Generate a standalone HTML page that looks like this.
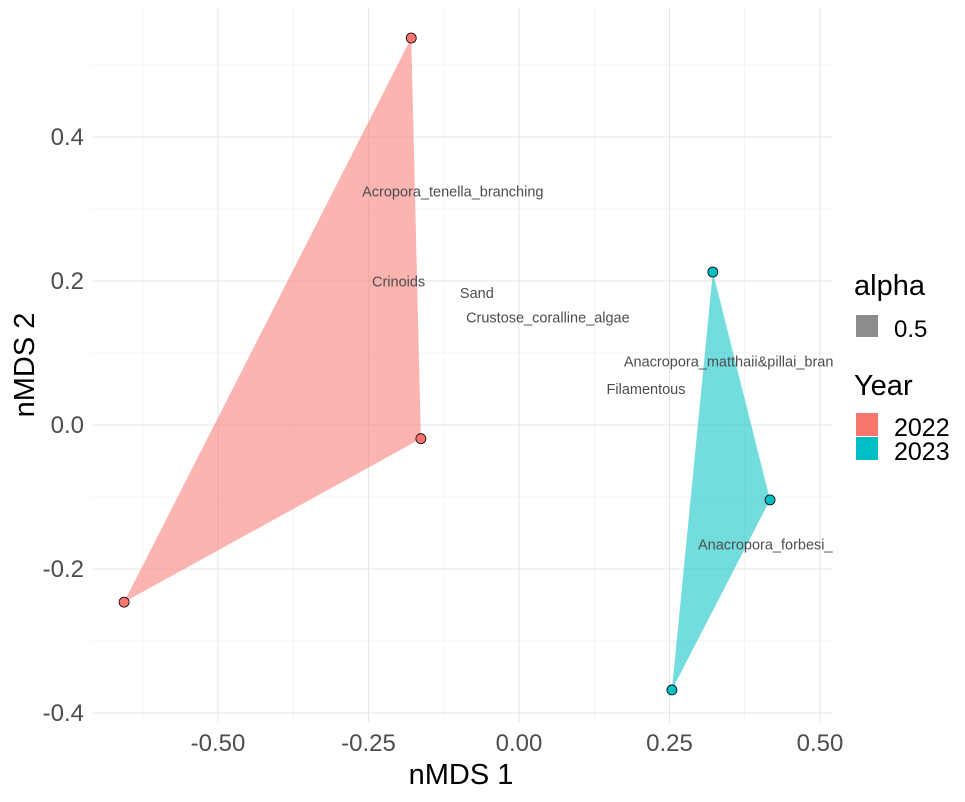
<!DOCTYPE html>
<html><head><meta charset="utf-8"><style>
body{margin:0;background:#fff;}
svg text{font-family:"Liberation Sans",sans-serif;}
</style></head><body>
<svg id="chart" width="965" height="797" viewBox="0 0 965 797" xmlns="http://www.w3.org/2000/svg">
<defs><clipPath id="panel"><rect x="92" y="8" width="741" height="714"/></clipPath></defs>
<g id="grid"></g>
<g id="hulls" clip-path="url(#panel)"></g>
<g id="labels" clip-path="url(#panel)"></g>
<g id="points"></g>
<g id="axes"></g>
<text x="461" y="784" text-anchor="middle" font-size="29" fill="#000">nMDS 1</text>
<text transform="translate(34,365) rotate(-90)" text-anchor="middle" font-size="29" fill="#000">nMDS 2</text>
<g>
<text x="854" y="295" font-size="29" fill="#000">alpha</text>
<rect x="856" y="315" width="22" height="22" fill="#8c8c8c"/>
<text x="894" y="337" font-size="24" fill="#000">0.5</text>
<text x="854" y="395" font-size="29" fill="#000">Year</text>
<rect x="856" y="413" width="22" height="23" fill="#F8766D"/>
<text x="894" y="436" font-size="25" fill="#000">2022</text>
<rect x="856" y="437" width="22" height="23" fill="#00BFC4"/>
<text x="894" y="460" font-size="25" fill="#000">2023</text>
</g>
</svg>
<script>
const xTicks=[-0.5,-0.25,0,0.25,0.5];
const xTickLabels=["-0.50","-0.25","0.00","0.25","0.50"];
const yTicks=[-0.4,-0.2,0,0.2,0.4];
const yTickLabels=["-0.4","-0.2","0.0","0.2","0.4"];
const groups=["2022","2023"];
const colors=["#F8766D","#00BFC4"];
const ptX2022=[-0.179,-0.163,-0.656];
const ptY2022=[0.5375,-0.019,-0.246];
const ptX2023=[0.322,0.417,0.254];
const ptY2023=[0.2125,-0.104,-0.368];
const speciesNames=["Acropora_tenella_branching","Crinoids","Sand","Crustose_coralline_algae","Anacropora_matthaii&pillai_branching","Filamentous","Anacropora_forbesi_branching"];
const speciesX=[-0.11,-0.2,-0.07,0.048,0.377,0.211,0.462];
const speciesY=[0.324,0.199,0.183,0.149,0.088,0.05,-0.166];

const sx=v=>519+v*602, sy=v=>425-v*720;
const NS="http://www.w3.org/2000/svg";
function mk(tag,parent,attrs){const e=document.createElementNS(NS,tag);for(const k in attrs)e.setAttribute(k,attrs[k]);document.getElementById(parent).appendChild(e);return e;}
const xMinor=[-0.625,-0.375,-0.125,0.125,0.375];
const yMinor=[-0.3,-0.1,0.1,0.3,0.5];
xMinor.forEach(v=>{const l=mk('line','grid',{x1:sx(v),x2:sx(v),y1:8,y2:722,stroke:'#ebebeb','stroke-width':0.6});

});
yMinor.forEach(v=>{const l=mk('line','grid',{x1:92,x2:833,y1:sy(v),y2:sy(v),stroke:'#ebebeb','stroke-width':0.6});

});
xTicks.forEach((v,i)=>{const l=mk('line','grid',{x1:sx(v),x2:sx(v),y1:8,y2:722,stroke:'#e5e5e5','stroke-width':1.1});


const t=mk('text','axes',{x:sx(v),y:751,'text-anchor':'middle','font-size':24,fill:'#4d4d4d'});t.textContent=xTickLabels[i];

});
yTicks.forEach((v,i)=>{const l=mk('line','grid',{x1:92,x2:833,y1:sy(v),y2:sy(v),stroke:'#e5e5e5','stroke-width':1.1});


const t=mk('text','axes',{x:84,y:sy(v)+8,'text-anchor':'end','font-size':24,fill:'#4d4d4d'});t.textContent=yTickLabels[i];

});
[[ptX2022,ptY2022],[ptX2023,ptY2023]].forEach((d,g)=>{
 const pts=d[0].map((x,i)=>sx(x)+','+sy(d[1][i])).join(' ');
 const p=mk('polygon','hulls',{points:pts,fill:colors[g],'fill-opacity':0.55});
 
 
 d[0].forEach((x,i)=>{const c=mk('circle','points',{cx:sx(x),cy:sy(d[1][i]),r:5,fill:colors[g],stroke:'#000','stroke-width':0.8});
 
 });
});
speciesNames.forEach((n,i)=>{const t=mk('text','labels',{x:sx(speciesX[i]),y:sy(speciesY[i])+5,'text-anchor':'middle','font-size':14.5,fill:'#4d4d4d'});t.textContent=n;

});
</script>
</body></html>
